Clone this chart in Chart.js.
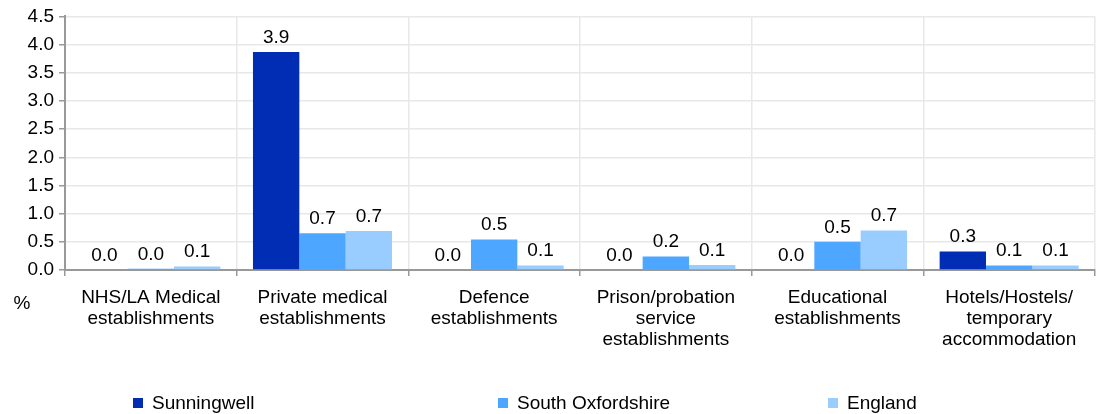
<!DOCTYPE html>
<html>
<head>
<meta charset="utf-8">
<script src="https://cdn.jsdelivr.net/npm/chart.js@4/dist/chart.umd.min.js"></script>
<style>
html, body { margin: 0; padding: 0; background: #fff; }
#wrap { position: relative; width: 1108px; height: 414px; }
</style>
</head>
<body>
<div id="wrap"><canvas id="chart" width="1108" height="414"></canvas></div>
<script>
// chart data
const categories = [
    ['NHS/LA Medical', 'establishments'],
    ['Private medical', 'establishments'],
    ['Defence', 'establishments'],
    ['Prison/probation', 'service', 'establishments'],
    ['Educational', 'establishments'],
    ['Hotels/Hostels/', 'temporary', 'accommodation'],
];
const seriesNames = ['Sunningwell', 'South Oxfordshire', 'England'];
const sunningwell = [0.0, 3.87, 0.0, 0.0, 0.0, 0.33];
const southOxfordshire = [0.02, 0.65, 0.54, 0.24, 0.50, 0.08];
const england = [0.06, 0.69, 0.08, 0.09, 0.70, 0.08];
const yMin = 0;
const yMax = 4.5;
const yStep = 0.5;
const yTitle = '%';

const colors = ['#002DB3', '#4DA6FF', '#99CCFF'];
const FONT = '"Liberation Sans", Arial, sans-serif';
const FONT_SIZE = 19;

// value labels above each bar
const valueLabels = {
    id: 'valueLabels',
    afterDatasetsDraw(chart) {
        const ctx = chart.ctx;
        ctx.save();
        ctx.font = FONT_SIZE + 'px ' + FONT;
        ctx.fillStyle = '#000';
        ctx.textAlign = 'center';
        ctx.textBaseline = 'bottom';
        chart.data.datasets.forEach((ds, i) => {
            chart.getDatasetMeta(i).data.forEach((bar, j) => {
                ctx.fillText(ds.data[j].toFixed(1), bar.x, bar.y - 5);
            });
        });
        ctx.restore();
    },
};

// spread legend + axis unit
const extras = {
    id: 'extras',
    afterDraw(chart) {
        const ctx = chart.ctx;
        ctx.save();
        ctx.font = FONT_SIZE + 'px ' + FONT;
        ctx.textBaseline = 'middle';
        ctx.fillStyle = '#000';
        ctx.textAlign = 'center';
        ctx.fillText(yTitle, 22, 304);

        const legendX = [133, 498, 828];
        const legendY = 403;
        ctx.textAlign = 'left';
        chart.data.datasets.forEach((ds, i) => {
            ctx.fillStyle = ds.backgroundColor;
            ctx.fillRect(legendX[i], legendY - 5, 10, 10);
            ctx.fillStyle = '#000';
            ctx.fillText(ds.label, legendX[i] + 19, legendY + 1);
        });
        ctx.restore();
    },
};

const datasets = [sunningwell, southOxfordshire, england].map((values, i) => ({
    label: seriesNames[i],
    data: values,
    backgroundColor: colors[i],
    borderWidth: 0,
    categoryPercentage: 0.81,
    barPercentage: 1.0,
}));

new Chart(document.getElementById('chart'), {
    type: 'bar',
    data: { labels: categories, datasets: datasets },
    options: {
        responsive: false,
        animation: false,
        events: [],
        layout: { padding: { top: 15, right: 13, bottom: 0, left: 0 } },
        plugins: {
            legend: { display: false },
            tooltip: { enabled: false },
        },
        scales: {
            x: {
                afterFit(scale) { scale.height = 144; },
                grid: {
                    offset: true,
                    color: '#E8E8E8',
                    lineWidth: 1.5,
                    tickColor: '#999999',
                    tickLength: 6,
                },
                border: { color: '#999999', width: 2 },
                ticks: {
                    color: '#000',
                    padding: 11,
                    maxRotation: 0,
                    autoSkip: false,
                    font: { family: FONT, size: FONT_SIZE, lineHeight: 1.12 },
                },
            },
            y: {
                min: yMin,
                max: yMax,
                afterFit(scale) { scale.width = 65; },
                grid: {
                    color: '#E8E8E8',
                    lineWidth: 1.5,
                    tickColor: '#999999',
                    tickLength: 6,
                },
                border: { color: '#999999', width: 2 },
                ticks: {
                    stepSize: yStep,
                    color: '#000',
                    padding: 5,
                    font: { family: FONT, size: FONT_SIZE },
                    callback: (v) => v.toFixed(1),
                },
            },
        },
    },
    plugins: [valueLabels, extras],
});
</script>
</body>
</html>
